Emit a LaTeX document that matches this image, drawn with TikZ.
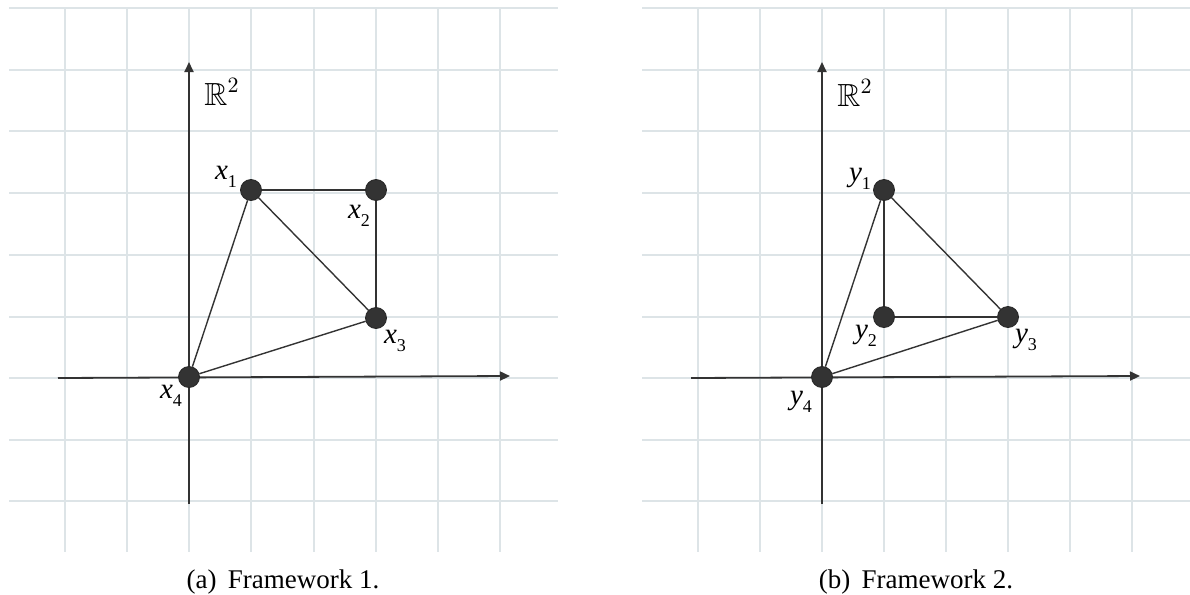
\documentclass[tikz,border=0pt]{standalone}
\usepackage{amssymb}
\usepackage{fontspec}
\setmainfont{Liberation Serif}
\usetikzlibrary{arrows.meta}
\definecolor{gridc}{HTML}{DDE4E7}
\definecolor{inkc}{HTML}{333333}
\newcommand\lbsub[1]{\raisebox{-0.28em}{\fontsize{9}{10}\selectfont\upshape #1}}
\begin{document}
\begin{tikzpicture}[x=0.5pt,y=-0.5pt,
  gridline/.style={draw=gridc,line width=1.3pt},
  axis/.style={draw=inkc,line width=0.9pt,-{Triangle[length=5pt,width=4.5pt]}},
  bar/.style={draw=inkc,line width=0.7pt},
  joint/.style={circle,fill=inkc,draw=black!85,line width=0.4pt,minimum size=10.5pt,inner sep=0pt},
  lab/.style={inner sep=0pt,font=\fontsize{14.5}{16}\selectfont},
  spacelab/.style={inner sep=0pt,font=\fontsize{16}{18}\selectfont},
  captext/.style={inner sep=0pt,font=\fontsize{13.5}{16}\selectfont}]
\useasboundingbox (0,0) rectangle (1190,595);
% grids
\foreach \yy in {8,70,131,193,255,317,378,440,501} {
  \draw[gridline] (9,\yy) -- (558,\yy);
  \draw[gridline] (642,\yy) -- (1190,\yy);
}
\foreach \xx in {65,127,189,251,314,376,438,500} {
  \draw[gridline] (\xx,8) -- (\xx,552);
}
\foreach \xx in {698,760,822,884,946,1008,1070,1132} {
  \draw[gridline] (\xx,8) -- (\xx,552);
}
% ---- Framework 1 ----
\coordinate (a1b) at (189,504);
\coordinate (a1t) at (189,62);
\coordinate (a1l) at (58,378);
\coordinate (a1r) at (510,376);
\draw[axis] (a1b) -- (a1t);
\draw[axis] (a1l) -- (a1r);
\node[joint] (x1) at (251,190) {};
\node[joint] (x2) at (376,190) {};
\node[joint] (x3) at (376,318) {};
\node[joint] (x4) at (189,377) {};
\draw[bar] (x1) -- (x2);
\draw[bar] (x1) -- (x3);
\draw[bar] (x1) -- (x4);
\draw[bar] (x2) -- (x3);
\draw[bar] (x3) -- (x4);
\node[lab] (lx1) at (226,177) {\textit{x}\lbsub{1}};
\node[lab] (lx2) at (359,216) {\textit{x}\lbsub{2}};
\node[lab] (lx3) at (395,341) {\textit{x}\lbsub{3}};
\node[lab] (lx4) at (171,396) {\textit{x}\lbsub{4}};
\node[spacelab] (r1) at (222,92) {$\mathbb{R}^2$};
\node[captext] (c1) at (283,582) {(a)\ \,Framework 1.};
% ---- Framework 2 ----
\coordinate (a2b) at (822,504);
\coordinate (a2t) at (822,62);
\coordinate (a2l) at (691,378);
\coordinate (a2r) at (1140,376);
\draw[axis] (a2b) -- (a2t);
\draw[axis] (a2l) -- (a2r);
\node[joint] (y1) at (884,190) {};
\node[joint] (y2) at (884,317) {};
\node[joint] (y3) at (1008,317) {};
\node[joint] (y4) at (822,377) {};
\draw[bar] (y1) -- (y2);
\draw[bar] (y1) -- (y3);
\draw[bar] (y1) -- (y4);
\draw[bar] (y2) -- (y3);
\draw[bar] (y3) -- (y4);
\node[lab] (ly1) at (860,179) {\textit{y}\lbsub{1}};
\node[lab] (ly2) at (866,336) {\textit{y}\lbsub{2}};
\node[lab] (ly3) at (1026,340) {\textit{y}\lbsub{3}};
\node[lab] (ly4) at (801,402) {\textit{y}\lbsub{4}};
\node[spacelab] (r2) at (855,93) {$\mathbb{R}^2$};
\node[captext] (c2) at (916,582) {(b)\ \,Framework 2.};
\end{tikzpicture}
\end{document}
